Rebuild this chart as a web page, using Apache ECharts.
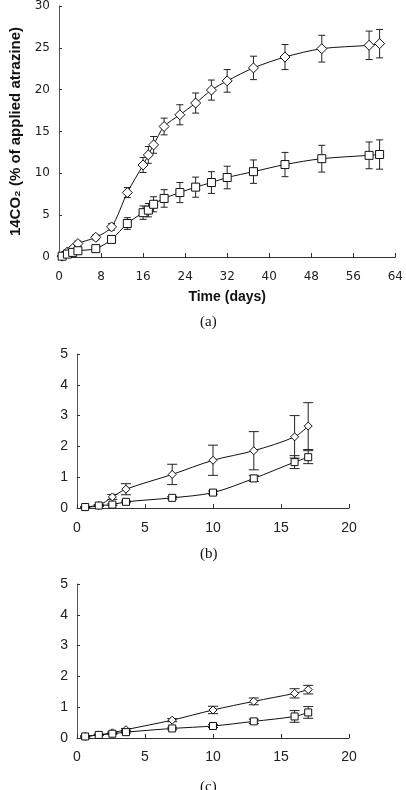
<!DOCTYPE html>
<html><head><meta charset="utf-8">
<script src="https://cdn.jsdelivr.net/npm/echarts@6/dist/echarts.min.js"></script>
<style>html,body{margin:0;padding:0;background:#fff}#c{width:406px;height:790px}</style>
</head><body><div id="c"></div>
<script>
// Panel (a)
const daysA = [0.6,1.6,2.6,3.6,7,10,13,16,17,18,20,23,26,29,32,37,43,50,59,61];
const diamondA = [0.1,0.6,1.0,1.6,2.35,3.6,7.7,11.0,12.2,13.4,15.6,17.0,18.4,19.95,21.05,22.6,23.9,24.9,25.3,25.5];
const diamondAErr = [0.1,0.2,0.2,0.3,0.3,0.4,0.6,0.9,1.0,1.0,1.0,1.2,1.2,1.2,1.35,1.4,1.5,1.6,1.7,1.7];
const squareA = [0.1,0.35,0.55,0.75,1.0,2.1,4.0,5.3,5.6,6.3,7.0,7.7,8.35,8.9,9.5,10.2,11.05,11.75,12.15,12.25];
const squareAErr = [0.1,0.1,0.2,0.2,0.3,0.4,0.7,0.8,0.8,0.9,1.05,1.2,1.2,1.3,1.35,1.4,1.45,1.6,1.6,1.75];
// Panels (b) and (c)
const daysBC = [0.6,1.6,2.6,3.6,7,10,13,16,17];
const diamondB = [0.03,0.08,0.36,0.61,1.09,1.55,1.86,2.31,2.66];
const diamondBErr = [0.02,0.03,0.08,0.18,0.33,0.49,0.62,0.69,0.76];
const squareB = [0.03,0.08,0.11,0.2,0.33,0.5,0.96,1.49,1.65];
const squareBErr = [0.02,0.02,0.03,0.03,0.04,0.05,0.1,0.21,0.21];
const diamondC = [0.05,0.1,0.17,0.27,0.58,0.91,1.19,1.45,1.57];
const diamondCErr = [0.02,0.02,0.03,0.04,0.05,0.12,0.11,0.15,0.14];
const squareC = [0.05,0.1,0.14,0.19,0.31,0.39,0.54,0.7,0.83];
const squareCErr = [0.02,0.02,0.02,0.03,0.04,0.05,0.07,0.19,0.19];
// Tick settings
const xTicksA = {min:0,max:64,interval:8};
const yTicksA = {min:0,max:30,interval:5};
const xTicksBC = {min:0,max:20,interval:5};
const yTicksBC = {min:0,max:5,interval:1};
const panelLabels = ['(a)','(b)','(c)'];

const zip = (xs, ys) => xs.map((x,i)=>[x, ys[i]]);
const zip3 = (xs, ys, es) => xs.map((x,i)=>[x, ys[i], es[i]]);

function errSeries(idx, data, cap){
  return {
    type:'custom', xAxisIndex:idx, yAxisIndex:idx, z:1, silent:true,
    data:data,
    renderItem:function(params, api){
      const x=api.value(0), y=api.value(1), e=api.value(2);
      const top=api.coord([x,y+e]), bot=api.coord([x,y-e]);
      const st={stroke:'#222', lineWidth:1};
      return {type:'group', children:[
        {type:'line', shape:{x1:top[0],y1:top[1],x2:bot[0],y2:bot[1]}, style:st},
        {type:'line', shape:{x1:top[0]-cap,y1:top[1],x2:top[0]+cap,y2:top[1]}, style:st},
        {type:'line', shape:{x1:bot[0]-cap,y1:bot[1],x2:bot[0]+cap,y2:bot[1]}, style:st}
      ]};
    }
  };
}
function lineSeries(idx, data, sym, size){
  return {
    type:'line', xAxisIndex:idx, yAxisIndex:idx, z:3, data:data, smooth:0.3,
    symbol:sym, symbolSize:size, showSymbol:true,
    lineStyle:{color:'#111', width:1},
    itemStyle:{color:'#fff', borderColor:'#111', borderWidth:1},
    emphasis:{disabled:true}, animation:false
  };
}
const axisLineStyle = {show:true, lineStyle:{color:'#333', width:1}};
function xAx(idx, t, ff, fs, margin, extra){
  return Object.assign({type:'value', gridIndex:idx, min:t.min, max:t.max, interval:t.interval,
    axisLine:axisLineStyle, axisTick:{show:true, inside:true, length:4, lineStyle:{color:'#333'}},
    splitLine:{show:false},
    axisLabel:{fontFamily:ff, fontSize:fs, color:'#222', margin:margin}}, extra||{});
}
function yAx(idx, t, ff, fs, extra){
  return Object.assign({type:'value', gridIndex:idx, min:t.min, max:t.max, interval:t.interval,
    axisLine:{show:true, lineStyle:{color:'#555', width:1}}, axisTick:{show:true, inside:true, length:3, lineStyle:{color:'#333'}},
    splitLine:{show:false},
    axisLabel:{fontFamily:ff, fontSize:fs, color:'#222', margin:9}}, extra||{});
}

const chart = echarts.init(document.getElementById('c'), null, {renderer:'canvas'});
chart.setOption({
  animation:false,
  backgroundColor:'#fff',
  grid:[
    {left:59, top:6, width:340, height:251},
    {left:77, top:354, width:272, height:154},
    {left:77, top:584, width:272, height:154}
  ],
  xAxis:[
    xAx(0, xTicksA, 'DejaVu Sans', 12, 14, {name:'Time (days)', nameLocation:'middle', nameGap:33,
      nameTextStyle:{fontFamily:'Liberation Sans', fontWeight:'bold', fontSize:14, color:'#111'}}),
    xAx(1, xTicksBC, 'Liberation Sans', 14, 13),
    xAx(2, xTicksBC, 'Liberation Sans', 14, 12)
  ],
  yAxis:[
    yAx(0, yTicksA, 'DejaVu Sans', 12, {name:'14CO\u2082 (% of applied atrazine)', nameLocation:'middle', nameGap:35, nameRotate:90,
      nameTextStyle:{fontFamily:'Liberation Sans', fontWeight:'bold', fontSize:15, color:'#111'}}),
    yAx(1, yTicksBC, 'Liberation Sans', 14),
    yAx(2, yTicksBC, 'Liberation Sans', 14)
  ],
  graphic:[
    {type:'text', left:200, top:315, style:{text:panelLabels[0], font:'15px "Liberation Serif"', fill:'#111'}},
    {type:'text', left:200, top:547, style:{text:panelLabels[1], font:'15px "Liberation Serif"', fill:'#111'}},
    {type:'text', left:200, top:780, style:{text:panelLabels[2], font:'15px "Liberation Serif"', fill:'#111'}}
  ],
  series:[
    errSeries(0, zip3(daysA, diamondA, diamondAErr), 3.5),
    errSeries(0, zip3(daysA, squareA, squareAErr), 3.5),
    lineSeries(0, zip(daysA, diamondA), 'diamond', [10,10]),
    lineSeries(0, zip(daysA, squareA), 'rect', [8,8]),
    errSeries(1, zip3(daysBC, diamondB, diamondBErr), 5),
    errSeries(1, zip3(daysBC, squareB, squareBErr), 5),
    lineSeries(1, zip(daysBC, diamondB), 'diamond', [8,8]),
    lineSeries(1, zip(daysBC, squareB), 'rect', [7,7]),
    errSeries(2, zip3(daysBC, diamondC, diamondCErr), 5),
    errSeries(2, zip3(daysBC, squareC, squareCErr), 5),
    lineSeries(2, zip(daysBC, diamondC), 'diamond', [8,8]),
    lineSeries(2, zip(daysBC, squareC), 'rect', [7,7])
  ]
});
</script>
</body></html>
